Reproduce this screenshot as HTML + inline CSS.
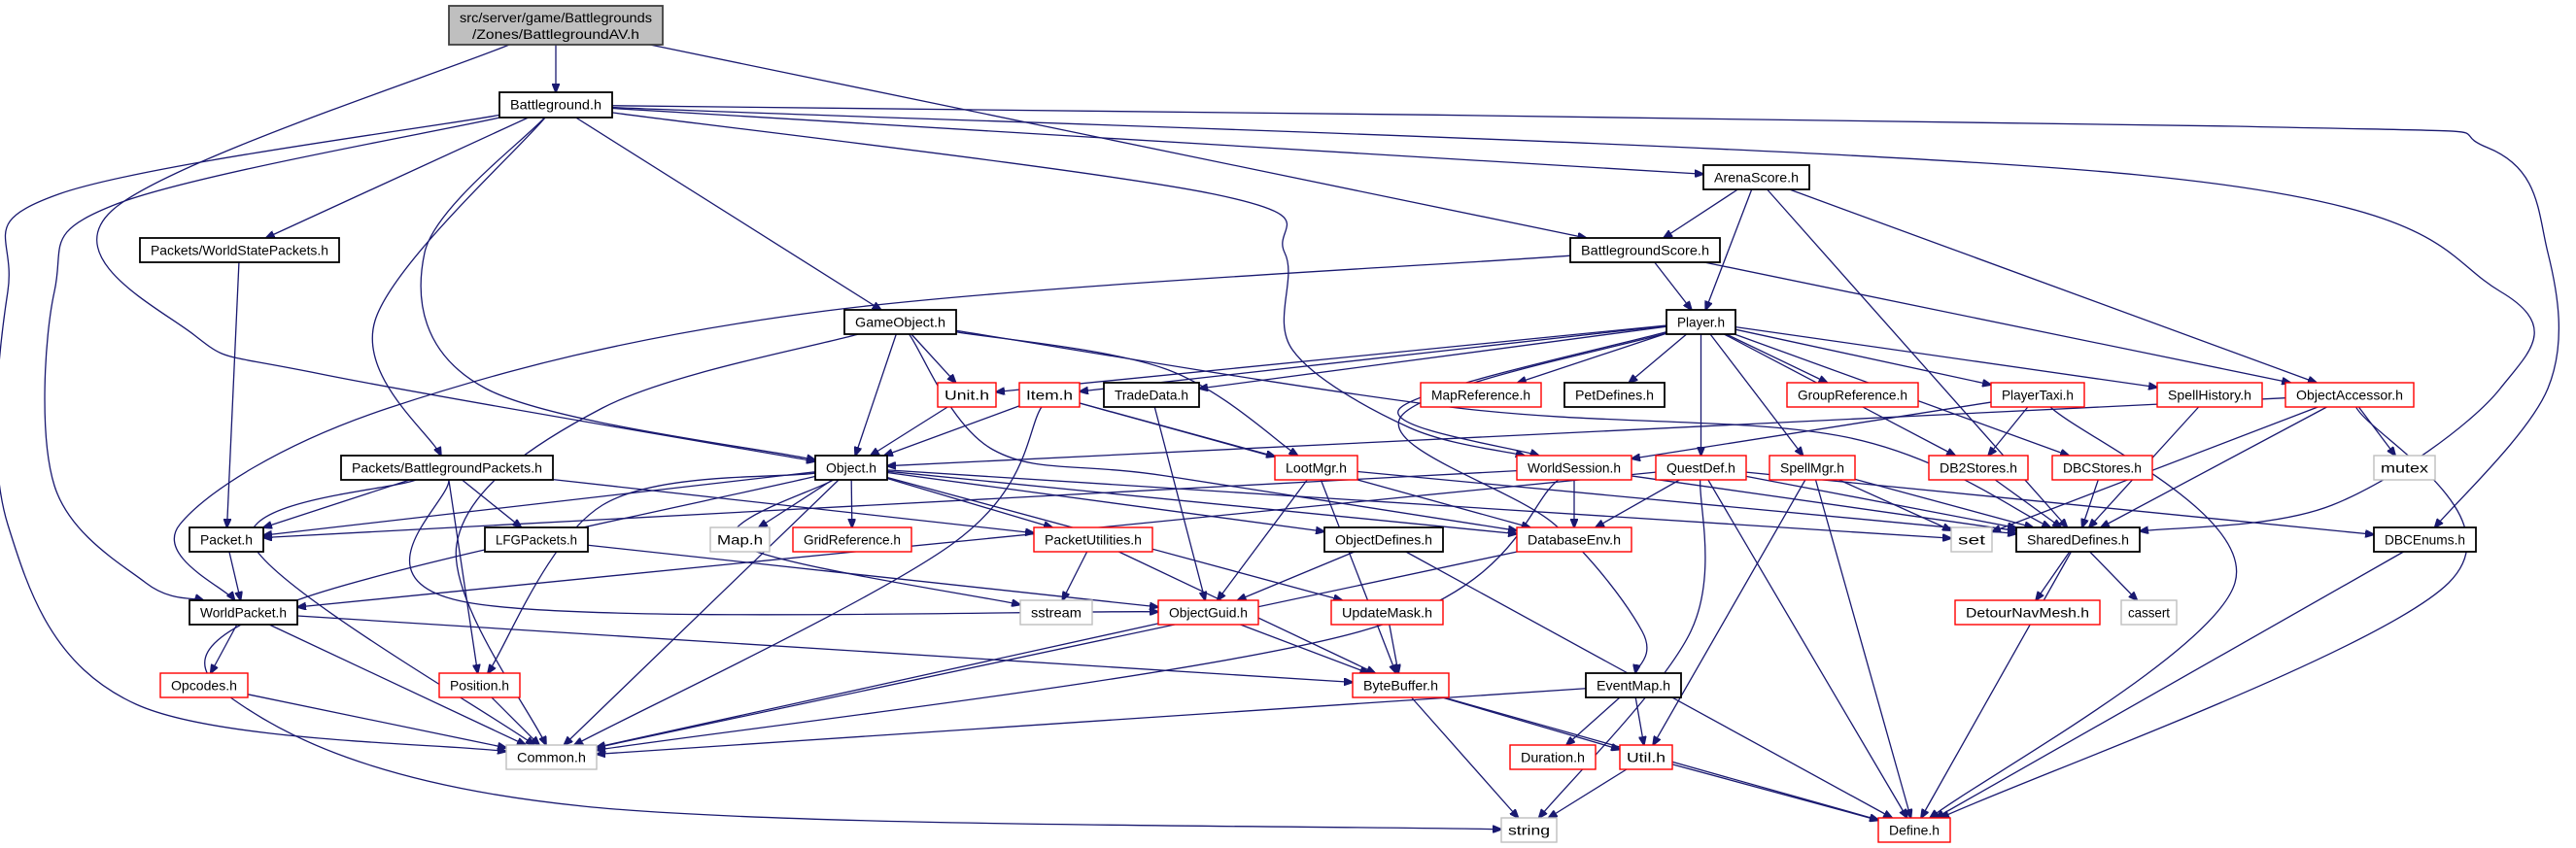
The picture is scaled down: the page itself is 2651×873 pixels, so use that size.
<!DOCTYPE html>
<html><head><meta charset="utf-8"><style>
html,body{margin:0;padding:0;background:#fff;width:2651px;height:873px;overflow:hidden}
svg{display:block}
text{font-family:"Liberation Sans",sans-serif;font-size:14px;fill:#000}
</style></head><body>
<svg id="g" width="2651" height="873" viewBox="0 0 2651 873" xmlns="http://www.w3.org/2000/svg">
<defs><marker id="ah" markerWidth="10" markerHeight="8" refX="9" refY="4" orient="auto" markerUnits="userSpaceOnUse"><path d="M0,0 L10,4 L0,8 z" fill="#191970" stroke="#191970"/></marker></defs>
<g id="edges"></g><g id="nodes"></g>
</svg>
<script>
var N={
AV:[462,6,682,46,'a',"src/server/game/Battlegrounds","/Zones/BattlegroundAV.h"],
BG:[514,95,630,121,'b',"Battleground.h"],
WSP:[144,245,349,270,'b',"Packets/WorldStatePackets.h"],
BGS:[1616,245,1770,270,'b',"BattlegroundScore.h"],
AS:[1753,170,1862,195,'b',"ArenaScore.h"],
GO:[869,319,984,344,'b',"GameObject.h"],
PL:[1715,319,1786,344,'b',"Player.h"],
UNIT:[965,394,1025,419,'r',"Unit.h"],
ITEM:[1049,394,1111,419,'r',"Item.h"],
TD:[1136,394,1234,419,'b',"TradeData.h"],
MR:[1462,394,1586,419,'r',"MapReference.h"],
PD:[1610,394,1713,419,'b',"PetDefines.h"],
GR:[1839,394,1974,419,'r',"GroupReference.h"],
PT:[2049,394,2145,419,'r',"PlayerTaxi.h"],
SH:[2220,394,2328,419,'r',"SpellHistory.h"],
OA:[2352,394,2484,419,'r',"ObjectAccessor.h"],
BP:[351,469,569,494,'b',"Packets/BattlegroundPackets.h"],
OBJ:[839,469,913,494,'b',"Object.h"],
LM:[1312,469,1397,494,'r',"LootMgr.h"],
WS:[1561,469,1679,494,'r',"WorldSession.h"],
QD:[1704,469,1797,494,'r',"QuestDef.h"],
SM:[1821,469,1909,494,'r',"SpellMgr.h"],
DB2:[1985,469,2087,494,'r',"DB2Stores.h"],
DBC:[2112,469,2215,494,'r',"DBCStores.h"],
MUTEX:[2443,469,2506,494,'g',"mutex"],
PK:[195,543,271,568,'b',"Packet.h"],
LFG:[499,543,605,568,'b',"LFGPackets.h"],
MAP:[731,543,792,568,'g',"Map.h"],
GRID:[816,543,938,568,'r',"GridReference.h"],
PU:[1064,543,1186,568,'r',"PacketUtilities.h"],
OD:[1363,543,1485,568,'b',"ObjectDefines.h"],
DE:[1561,543,1679,568,'r',"DatabaseEnv.h"],
SET:[2008,543,2050,568,'g',"set"],
SD:[2075,543,2202,568,'b',"SharedDefines.h"],
DBE:[2443,543,2548,568,'b',"DBCEnums.h"],
WP:[195,618,306,643,'b',"WorldPacket.h"],
SS:[1050,618,1124,643,'g',"sstream"],
OG:[1192,618,1295,643,'r',"ObjectGuid.h"],
UM:[1370,618,1485,643,'r',"UpdateMask.h"],
DNM:[2012,618,2161,643,'r',"DetourNavMesh.h"],
CA:[2183,618,2240,643,'g',"cassert"],
OP:[165,693,255,718,'r',"Opcodes.h"],
POS:[452,693,535,718,'r',"Position.h"],
BB:[1392,693,1491,718,'r',"ByteBuffer.h"],
EM:[1632,693,1730,718,'b',"EventMap.h"],
COM:[521,767,614,792,'g',"Common.h"],
DUR:[1554,767,1642,792,'r',"Duration.h"],
UTIL:[1667,767,1721,792,'r',"Util.h"],
STR:[1545,842,1602,867,'g',"string"],
DEF:[1933,842,2007,867,'r',"Define.h"]
};
var E=[
['AV','BG'],['AV','OBJ',[[115,217],[200,345],[330,385]]],['AV','BGS'],
['BG','COM',[[60,200],[8,300],[8,540],[140,725]]],['BG','WP',[[120,210],[56,300],[56,500],[150,600]]],
['BG','WSP'],['BG','BP',[[386,330]]],['BG','OBJ',[[437,260],[500,400]]],['BG','GO'],
['BG','WS',[[1250,200],[1322,260],[1330,360],[1450,440]]],['BG','AS'],
['BG','SD',[[2200,180],[2573,300],[2573,400],[2400,520]]],
['BG','DBE',[[2300,130],[2560,152],[2622,260],[2622,400]]],
['WSP','PK'],
['AS','BGS'],['AS','PL'],['AS','OA'],['AS','SD'],
['BGS','PL'],['BGS','OA'],['BGS','WP',[[850,320],[400,420],[185,540]]],
['GO','UNIT'],['GO','OBJ'],['GO','COM',[[620,420],[470,560]]],['GO','LM',[[1200,380]]],['GO','SD',[[1500,420],[1900,450]]],
['GO','DE',[[1022,463],[1200,490]]],
['PL','UNIT'],['PL','ITEM'],['PL','TD'],['PL','MR'],['PL','PD'],['PL','GR'],['PL','PT'],['PL','SH'],
['PL','QD'],['PL','SM'],['PL','DB2'],['PL','DBC'],['PL','WS',[[1441,420]]],
['PL','EM',[[1441,430],[1600,540],[1690,650]]],
['UNIT','OBJ'],['ITEM','OBJ'],['ITEM','LM'],['ITEM','COM',[[980,560]]],['ITEM','DE'],
['TD','OG'],
['OBJ','MAP'],['OBJ','GRID'],['OBJ','COM'],['OBJ','POS',[[620,520]]],['OBJ','PU'],['OBJ','OD'],
['OBJ','DE'],['OBJ','UM'],['OBJ','SS',[[760,560]]],['OBJ','STR',[[300,620],[240,720],[600,830]]],
['OBJ','SET'],['OBJ','PK'],
['LM','OG'],['LM','BB'],['LM','SD'],
['WS','DE'],['WS','PK'],['WS','SD'],['WS','COM',[[1400,650]]],
['QD','DE'],['QD','WP'],['QD','SD'],['QD','DEF'],['QD','STR',[[1740,650]]],['QD','DBE'],
['SM','SD'],['SM','SET'],['SM','DEF'],['SM','UTIL'],
['PT','WS'],['PT','DB2'],['PT','DEF',[[2300,600]]],
['SH','SD'],['DB2','SD'],['DBC','SD'],
['OA','OBJ'],['OA','SD'],['OA','SET'],['OA','MUTEX'],['OA','DEF',[[2520,600]]],
['SD','DNM'],['SD','CA'],['SD','DEF'],['DBE','DEF'],
['BP','PK'],['BP','LFG'],['BP','PU'],['BP','OG',[[480,620]]],['BP','POS'],['BP','COM',[[260,560]]],
['LFG','OG'],['PK','WP'],['WP','OP'],['WP','COM'],['WP','BB'],
['OP','COM'],['POS','COM'],['PU','SS'],['PU','BB'],['OD','OG'],['OD','DEF'],
['DE','COM'],['OG','COM'],['OG','BB'],['UM','BB'],
['BB','STR'],['BB','DEF'],['BB','UTIL'],['EM','COM'],['EM','DUR'],['EM','UTIL'],
['UTIL','STR'],['UTIL','DEF']
];
var NS="http://www.w3.org/2000/svg";
function el(t,a,p){var e=document.createElementNS(NS,t);for(var k in a)e.setAttribute(k,a[k]);p.appendChild(e);return e;}
function ctr(n){return [(n[0]+n[2])/2,(n[1]+n[3])/2];}
function clip(n,p){var c=ctr(n),dx=p[0]-c[0],dy=p[1]-c[1];var hw=(n[2]-n[0])/2,hh=(n[3]-n[1])/2;
 var t=Math.min(dx?hw/Math.abs(dx):1e9,dy?hh/Math.abs(dy):1e9);if(t>1)t=1;return [c[0]+dx*t,c[1]+dy*t];}
var eg=document.getElementById('edges'),ng=document.getElementById('nodes');
E.forEach(function(e){var s=N[e[0]],d=N[e[1]],w=e[2]||[];
 var first=w.length?w[0]:ctr(d),last=w.length?w[w.length-1]:ctr(s);
 var pts=[clip(s,first)].concat(w,[clip(d,last)]);
 var dstr='M'+pts[0][0]+','+pts[0][1];
 if(pts.length==2){dstr+=' L'+pts[1][0]+','+pts[1][1];}
 else{for(var i=0;i<pts.length-1;i++){var p0=pts[Math.max(0,i-1)],p1=pts[i],p2=pts[i+1],p3=pts[Math.min(pts.length-1,i+2)];
  var c1=[p1[0]+(p2[0]-p0[0])/6,p1[1]+(p2[1]-p0[1])/6],c2=[p2[0]-(p3[0]-p1[0])/6,p2[1]-(p3[1]-p1[1])/6];
  dstr+=' C'+c1[0]+','+c1[1]+' '+c2[0]+','+c2[1]+' '+p2[0]+','+p2[1];}}
 el('path',{d:dstr,fill:'none',stroke:'#191970','stroke-width':1.3,'marker-end':'url(#ah)'},eg);
});
for(var k in N){var n=N[k],t=n[4];
 var col=t=='r'?'#ff0000':t=='g'?'#bfbfbf':'#000';
 el('rect',{x:n[0],y:n[1],width:n[2]-n[0],height:n[3]-n[1],fill:t=='a'?'#bfbfbf':'#fff',stroke:t=='a'?'#404040':col,'stroke-width':t=='b'||t=='a'?1.8:1.4},ng);
 var cx=(n[0]+n[2])/2;
 if(n.length>6){
  var a=el('text',{x:cx,y:n[1]+17,'text-anchor':'middle',textLength:n[2]-n[0]-22,lengthAdjust:'spacingAndGlyphs'},ng);a.textContent=n[5];
  var b=el('text',{x:cx,y:n[1]+34,'text-anchor':'middle',textLength:n[2]-n[0]-48,lengthAdjust:'spacingAndGlyphs'},ng);b.textContent=n[6];
 }else{
  var w=n[2]-n[0];var tl=w<70?w-14:w-22;
  var tx=el('text',{x:cx,y:n[1]+17.5,'text-anchor':'middle',textLength:tl,lengthAdjust:'spacingAndGlyphs'},ng);tx.textContent=n[5];
 }
}
</script>
</body></html>
